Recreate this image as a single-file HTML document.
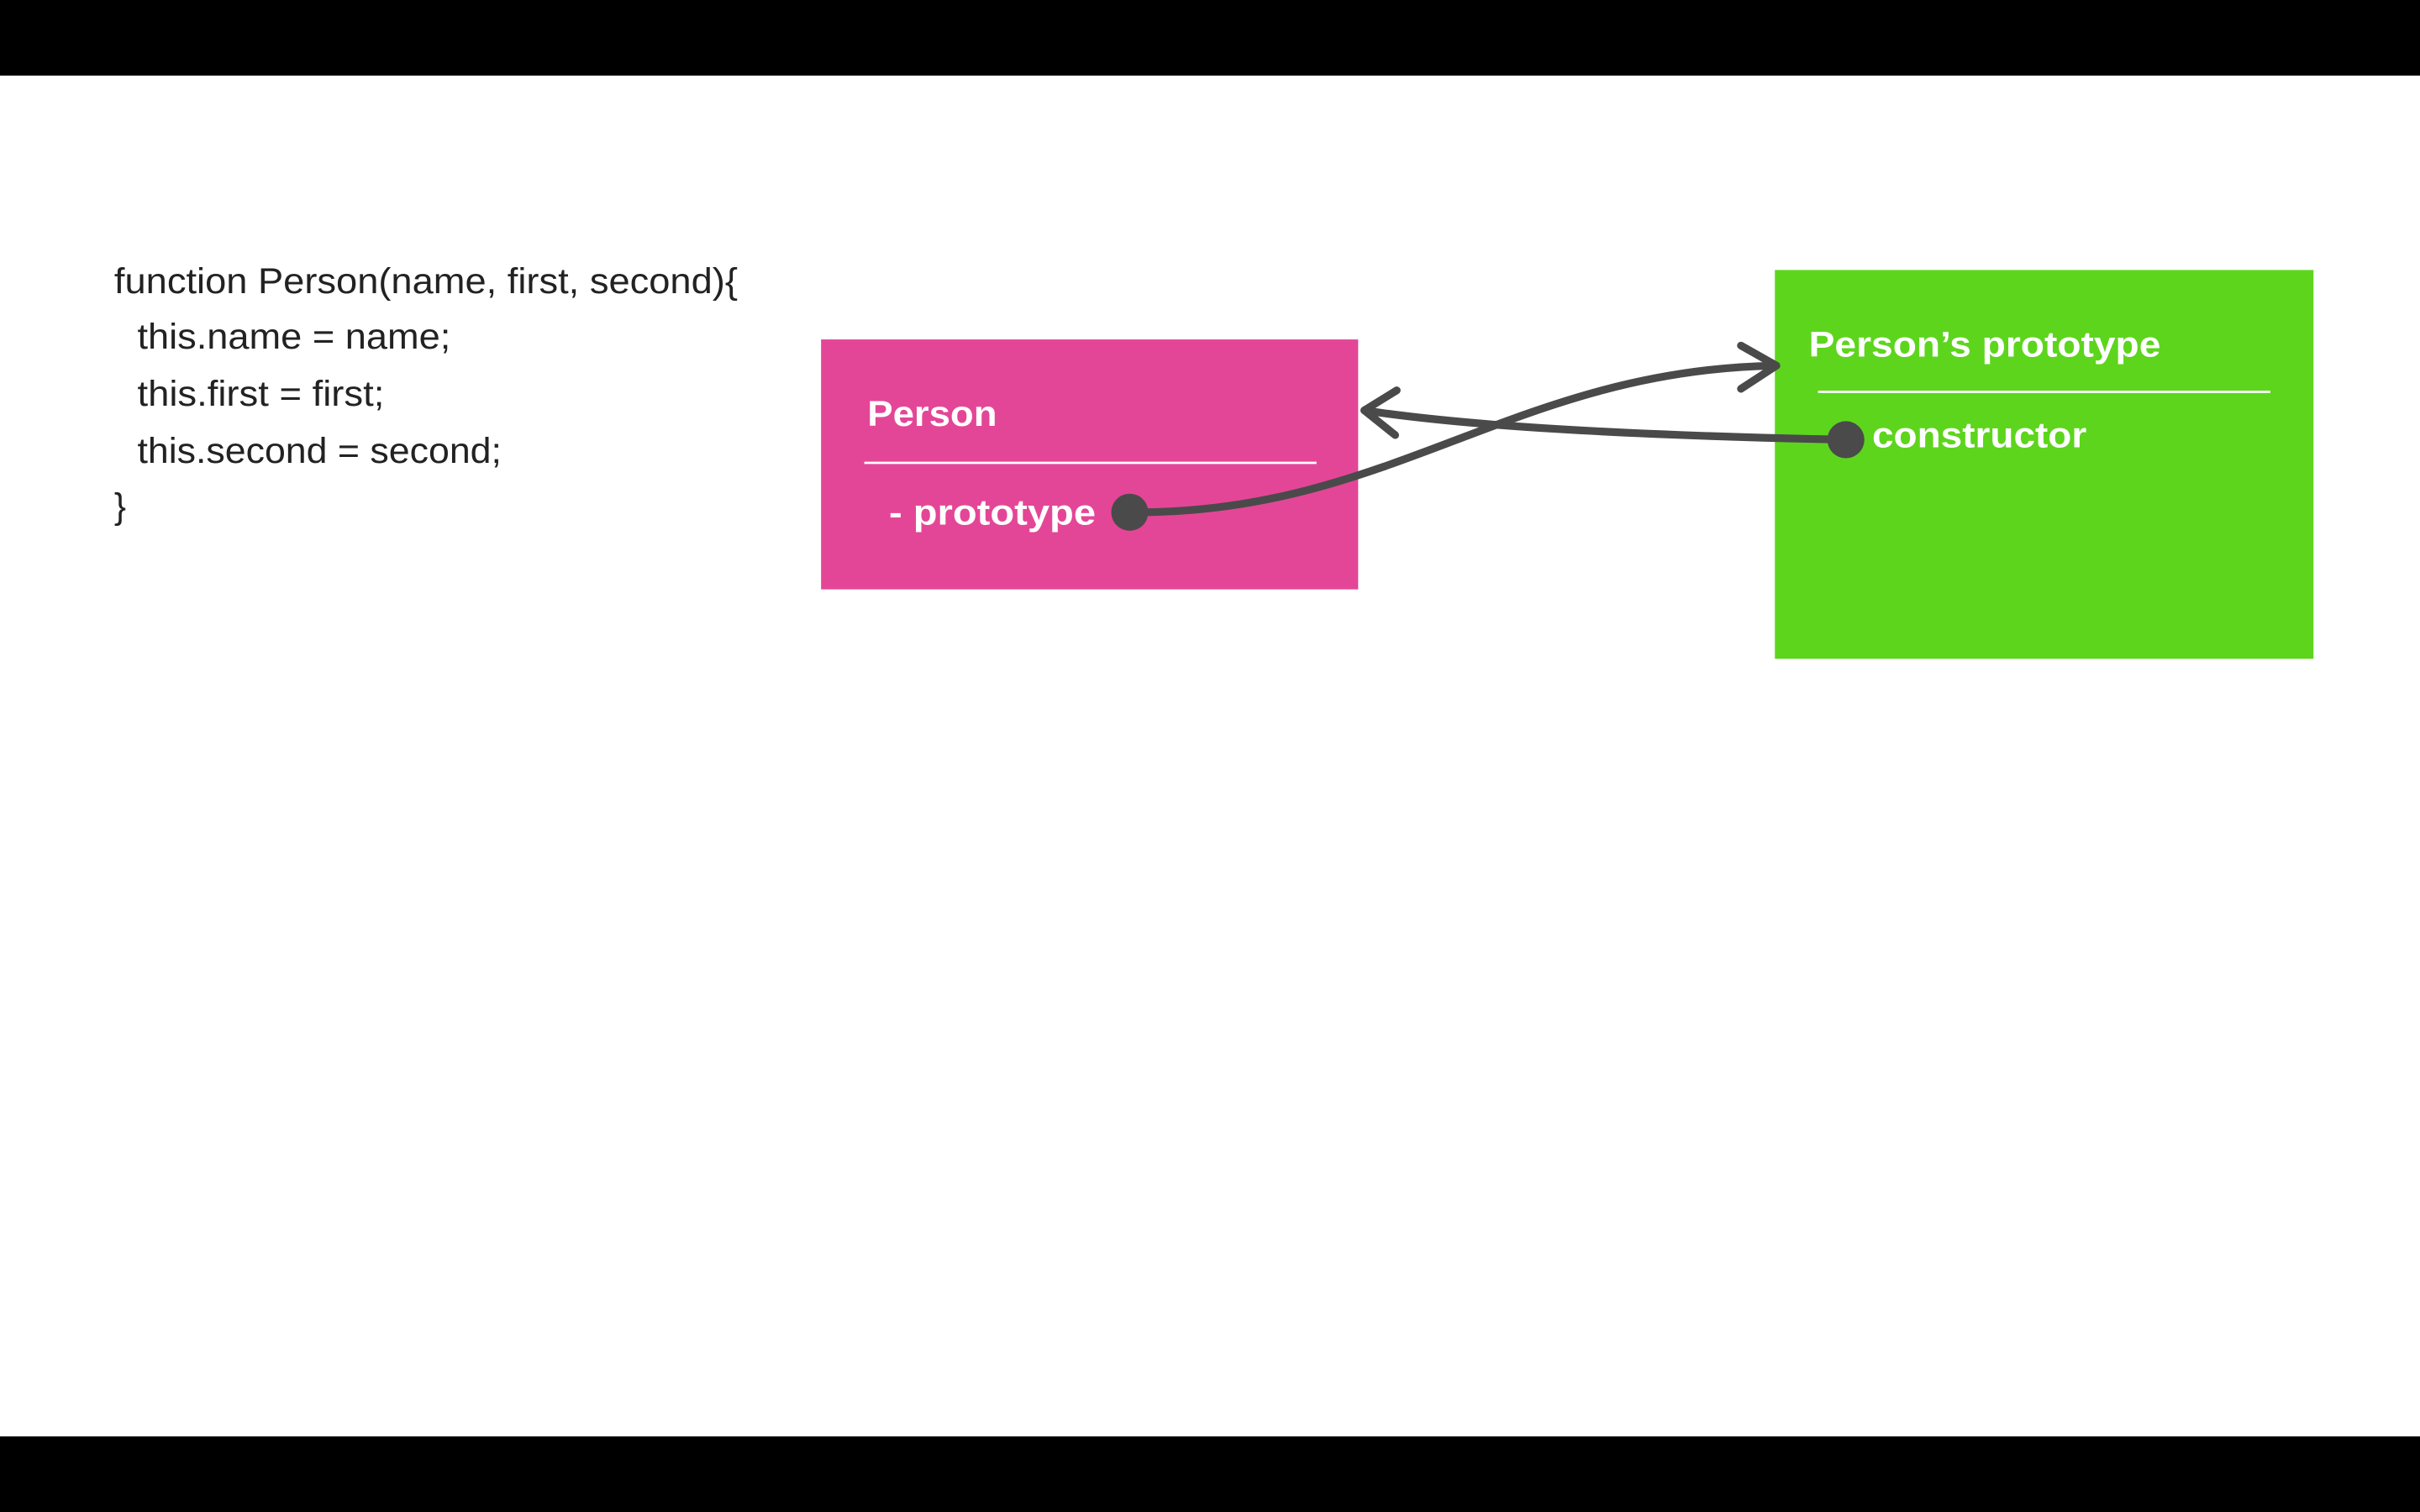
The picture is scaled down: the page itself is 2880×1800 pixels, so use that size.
<!DOCTYPE html>
<html><head><meta charset="utf-8"><style>
html,body{margin:0;padding:0;background:#fff;}
svg{display:block;}
</style></head><body>
<svg width="2880" height="1800" viewBox="0 0 1568 980" preserveAspectRatio="none" xmlns="http://www.w3.org/2000/svg">
<rect x="0" y="0" width="1568" height="980" fill="#fff"/>
<rect x="0" y="0" width="1568" height="49" fill="#000"/>
<rect x="0" y="931" width="1568" height="49" fill="#000"/>
<g font-family="Liberation Sans, sans-serif" font-size="23" fill="#222" lengthAdjust="spacingAndGlyphs">
<text x="74" y="190" textLength="404" lengthAdjust="spacingAndGlyphs">function Person(name, first, second){</text>
<text x="89" y="226" textLength="203" lengthAdjust="spacingAndGlyphs">this.name = name;</text>
<text x="89" y="263" textLength="160" lengthAdjust="spacingAndGlyphs">this.first = first;</text>
<text x="89" y="300" textLength="236" lengthAdjust="spacingAndGlyphs">this.second = second;</text>
<text x="74" y="336">}</text>
</g>
<rect x="532" y="220" width="348" height="162" fill="#e44697"/>
<text x="562" y="276" font-family="Liberation Sans, sans-serif" font-weight="bold" font-size="23" fill="#fff" textLength="84" lengthAdjust="spacingAndGlyphs">Person</text>
<line x1="560" y1="300" x2="853" y2="300" stroke="#fff" stroke-width="1.5"/>
<text x="576" y="340" font-family="Liberation Sans, sans-serif" font-weight="bold" font-size="23" fill="#fff" textLength="134" lengthAdjust="spacingAndGlyphs">- prototype</text>
<rect x="1150" y="175" width="349" height="252" fill="#5dd51d"/>
<text x="1172" y="231" font-family="Liberation Sans, sans-serif" font-weight="bold" font-size="23" fill="#fff" textLength="228" lengthAdjust="spacingAndGlyphs">Person’s prototype</text>
<line x1="1178" y1="254" x2="1471" y2="254" stroke="#fff" stroke-width="1.5"/>
<text x="1213" y="290" font-family="Liberation Sans, sans-serif" font-weight="bold" font-size="23" fill="#fff" textLength="139" lengthAdjust="spacingAndGlyphs">constructor</text>
<g stroke="#4a4a4a" stroke-width="5" fill="none" stroke-linecap="round" stroke-linejoin="round">
<path d="M732,332 C900,334 980,240 1150,237"/>
<path d="M1128,224 L1151,237 L1128,252"/>
<path d="M1196,285 C1050,282 950,276 884,266"/>
<path d="M905,253 L884,266 L904,282"/>
</g>
<circle cx="732" cy="332" r="12" fill="#4a4a4a"/>
<circle cx="1196" cy="285" r="12" fill="#4a4a4a"/>
</svg>
</body></html>
